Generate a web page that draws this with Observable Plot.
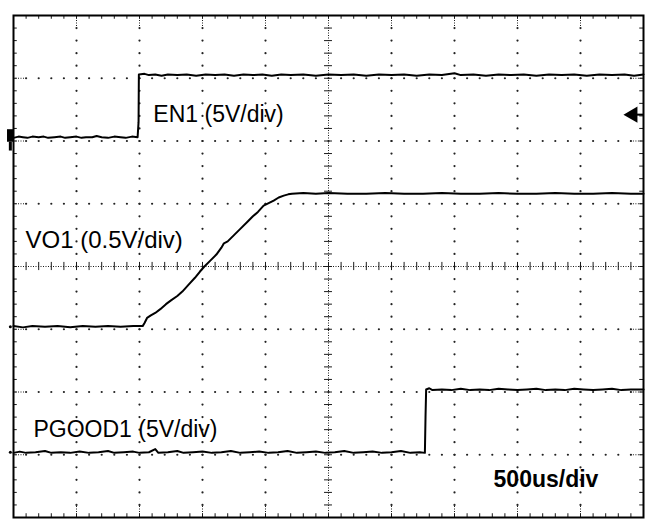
<!DOCTYPE html>
<html>
<head>
<meta charset="utf-8">
<script src="https://cdn.jsdelivr.net/npm/d3@7"></script>
<script src="https://cdn.jsdelivr.net/npm/@observablehq/plot@0.6"></script>
<style>
  html, body { margin: 0; padding: 0; background: #fff; }
  #chart svg { display: block; background: #fff; }
</style>
</head>
<body>
<div id="chart"></div>
<script>
// ---- Data (time in divisions 0..10, level in divisions -4..4) ----
const traceLabels = ["EN1 (5V/div)", "VO1 (0.5V/div)", "PGOOD1 (5V/div)"];
const timebaseLabel = "500us/div";

const en1 = [
  [0.00,2.05],[0.08,2.07],[0.15,2.06],[0.22,2.05],[0.30,2.07],[0.40,2.06],[0.48,2.07],
  [0.55,2.05],[0.65,2.06],[0.75,2.07],[0.82,2.05],[0.90,2.06],[1.00,2.07],[1.08,2.05],
  [1.15,2.06],[1.25,2.06],[1.32,2.08],[1.40,2.06],[1.50,2.05],[1.60,2.07],[1.70,2.06],
  [1.78,2.05],[1.88,2.07],[1.97,2.06],[1.985,2.30],[1.99,3.06],[2.08,3.07],[2.15,3.05],
  [2.25,3.06],[2.35,3.04],[2.45,3.06],[2.60,3.05],[2.75,3.06],[2.90,3.04],[3.05,3.06],
  [3.20,3.05],[3.35,3.06],[3.50,3.04],[3.65,3.06],[3.80,3.05],[3.95,3.06],[4.10,3.04],
  [4.25,3.06],[4.40,3.05],[4.60,3.06],[4.80,3.04],[5.00,3.06],[5.20,3.05],[5.40,3.06],
  [5.60,3.04],[5.80,3.06],[6.00,3.05],[6.20,3.06],[6.40,3.04],[6.60,3.06],[6.80,3.05],
  [7.00,3.08],[7.10,3.05],[7.30,3.06],[7.50,3.04],[7.70,3.06],[7.90,3.05],[8.10,3.06],
  [8.30,3.04],[8.50,3.06],[8.70,3.05],[8.90,3.06],[9.10,3.04],[9.30,3.06],[9.50,3.05],
  [9.70,3.06],[9.85,3.04],[10.0,3.06]
];

const vo1 = [
  [0.00,-0.95],[0.15,-0.97],[0.30,-0.95],[0.50,-0.96],[0.70,-0.95],[0.90,-0.97],
  [1.10,-0.95],[1.30,-0.96],[1.50,-0.95],[1.70,-0.96],[1.90,-0.95],[2.05,-0.95],
  [2.08,-0.90],[2.12,-0.82],[2.18,-0.78],[2.25,-0.74],[2.33,-0.68],[2.42,-0.60],
  [2.50,-0.54],[2.60,-0.47],[2.68,-0.40],[2.78,-0.29],[2.88,-0.18],[2.96,-0.08],
  [3.03,0.00],[3.12,0.09],[3.22,0.19],[3.30,0.30],[3.34,0.37],[3.40,0.40],
  [3.50,0.50],[3.60,0.60],[3.71,0.71],[3.80,0.80],[3.88,0.87],[3.97,0.97],
  [4.05,1.01],[4.13,1.05],[4.21,1.10],[4.29,1.13],[4.36,1.15],[4.42,1.16],
  [4.60,1.17],[4.80,1.16],[5.00,1.17],[5.30,1.16],[5.60,1.16],[5.90,1.17],
  [6.20,1.16],[6.50,1.16],[6.80,1.17],[7.10,1.16],[7.40,1.16],[7.70,1.17],
  [8.00,1.16],[8.30,1.16],[8.60,1.17],[8.90,1.16],[9.20,1.16],[9.50,1.17],
  [9.80,1.16],[10.0,1.16]
];

const pgood1 = [
  [0.00,-2.97],[0.10,-2.95],[0.20,-2.97],[0.35,-2.96],[0.50,-2.94],[0.60,-2.97],
  [0.75,-2.96],[0.90,-2.97],[1.05,-2.95],[1.20,-2.97],[1.35,-2.96],[1.50,-2.94],
  [1.60,-2.97],[1.75,-2.96],[1.90,-2.95],[2.00,-2.97],[2.15,-2.96],[2.25,-2.91],
  [2.30,-2.97],[2.45,-2.96],[2.60,-2.94],[2.70,-2.97],[2.85,-2.96],[3.00,-2.95],
  [3.15,-2.97],[3.30,-2.96],[3.45,-2.94],[3.60,-2.97],[3.75,-2.96],[3.90,-2.95],
  [4.05,-2.97],[4.20,-2.96],[4.35,-2.94],[4.50,-2.97],[4.65,-2.96],[4.80,-2.95],
  [4.95,-2.97],[5.10,-2.96],[5.25,-2.94],[5.40,-2.97],[5.55,-2.96],[5.70,-2.95],
  [5.85,-2.97],[6.00,-2.96],[6.15,-2.94],[6.30,-2.97],[6.45,-2.96],[6.53,-2.97],
  [6.54,-2.40],[6.55,-1.96],[6.60,-1.94],[6.65,-1.97],[6.80,-1.96],[6.95,-1.97],
  [7.10,-1.95],[7.25,-1.97],[7.40,-1.96],[7.55,-1.97],[7.70,-1.95],[7.85,-1.96],
  [8.00,-1.97],[8.15,-1.96],[8.30,-1.95],[8.45,-1.97],[8.60,-1.96],[8.75,-1.97],
  [8.90,-1.95],[9.05,-1.96],[9.20,-1.97],[9.35,-1.96],[9.50,-1.95],[9.65,-1.97],
  [9.80,-1.96],[10.0,-1.96]
];

const en1Ground = 2.06;
const vo1Ground = -0.96;
const pgoodGround = -2.96;
const triggerLevel = 2.42;

// ---- Graticule structure ----
const majorX = [1,2,3,4,6,7,8,9];
const majorY = [-3,-2,-1,1,2,3];
const minorX = d3.range(0, 51).map(i => i * 0.2);
const minorY = d3.range(0, 41).map(i => -4 + i * 0.2);

const gridDots = [];
for (const x of majorX) for (const y of minorY) if (y > -3.95 && y < 3.95) gridDots.push({x, y});
for (const y of majorY) for (const x of minorX) if (x > 0.05 && x < 9.95) gridDots.push({x, y});

const toPts = arr => arr.map(([t, v]) => ({t, v}));

const font = "Liberation Sans, Arial, Helvetica, sans-serif";
const ink = "#1a1a1a";

const chart = Plot.plot({
  width: 650,
  height: 525,
  marginLeft: 13,
  marginRight: 7,
  marginTop: 15,
  marginBottom: 8,
  x: {domain: [0, 10], axis: null},
  y: {domain: [-4, 4], axis: null},
  style: {background: "#fff"},
  marks: [
    // dotted grid
    Plot.dot(gridDots, {x: "x", y: "y", r: 1.1, fill: "#222", stroke: null}),
    // dense dotted segments of major lines near edges
    Plot.ruleX(majorX, {x: d => d, y1: 4, y2: 3.8, stroke: ink, strokeDasharray: "1,1.5"}),
    Plot.ruleX(majorX, {x: d => d, y1: -4, y2: -3.8, stroke: ink, strokeDasharray: "1,1.5"}),
    Plot.ruleY(majorY, {y: d => d, x1: 0, x2: 0.2, stroke: ink, strokeDasharray: "1,1.5"}),
    Plot.ruleY(majorY, {y: d => d, x1: 9.8, x2: 10, stroke: ink, strokeDasharray: "1,1.5"}),
    // center cross lines
    Plot.ruleY([0], {stroke: ink, strokeDasharray: "1,1.5"}),
    Plot.ruleX([5], {stroke: ink, strokeDasharray: "1,1.5"}),
    Plot.ruleX(minorX, {x: d => d, y1: -0.065, y2: 0.065, stroke: ink, strokeWidth: 1}),
    Plot.ruleY(minorY, {y: d => d, x1: 4.937, x2: 5.063, stroke: ink, strokeWidth: 1}),
    // edge minor ticks
    Plot.ruleX(minorX, {x: d => d, y1: 4, y2: 3.94, stroke: ink}),
    Plot.ruleX(minorX, {x: d => d, y1: -4, y2: -3.94, stroke: ink}),
    Plot.ruleY(minorY, {y: d => d, x1: 0, x2: 0.06, stroke: ink}),
    Plot.ruleY(minorY, {y: d => d, x1: 9.94, x2: 10, stroke: ink}),
    Plot.frame({stroke: "#000", strokeWidth: 2}),
    // traces
    Plot.line(toPts(en1), {x: "t", y: "v", stroke: "#000", strokeWidth: 2, curve: "linear"}),
    Plot.line(toPts(vo1), {x: "t", y: "v", stroke: "#000", strokeWidth: 2, curve: "linear"}),
    Plot.line(toPts(pgood1), {x: "t", y: "v", stroke: "#000", strokeWidth: 2, curve: "linear"}),
    // channel ground markers (left)
    Plot.rect([en1Ground], {x1: -0.095, x2: 0, y1: d => d - 0.08, y2: d => d + 0.12, fill: "#000"}),
    Plot.ruleX([en1Ground], {x: -0.05, y1: d => d - 0.08, y2: d => d - 0.22, stroke: "#000", strokeWidth: 3}),
    Plot.dot([vo1Ground, pgoodGround], {x: -0.05, y: d => d, r: 1.5, fill: "#000", stroke: null}),
    // trigger arrow (right)
    Plot.dot([triggerLevel], {x: 9.83, y: d => d, symbol: "triangle", rotate: -90, r: 6, fill: "#000", stroke: null}),
    Plot.ruleY([triggerLevel], {y: d => d, x1: 9.85, x2: 10, stroke: "#000", strokeWidth: 2}),
    // labels
    Plot.text([traceLabels[0]], {x: 2.22, y: 2.295, text: d => d, textAnchor: "start", lineAnchor: "bottom", fontSize: 23, fontFamily: font, fill: "#000"}),
    Plot.text([traceLabels[1]], {x: 0.19, y: 0.30, text: d => d, textAnchor: "start", lineAnchor: "bottom", fontSize: 24, fontFamily: font, fill: "#000"}),
    Plot.text([traceLabels[2]], {x: 0.317, y: -2.725, text: d => d, textAnchor: "start", lineAnchor: "bottom", fontSize: 23, fontFamily: font, fill: "#000"}),
    Plot.text([timebaseLabel], {x: 7.62, y: -3.52, text: d => d, textAnchor: "start", lineAnchor: "bottom", fontSize: 23, fontWeight: "bold", fontFamily: font, fill: "#000"})
  ]
});

document.getElementById("chart").appendChild(chart);
</script>
</body>
</html>
